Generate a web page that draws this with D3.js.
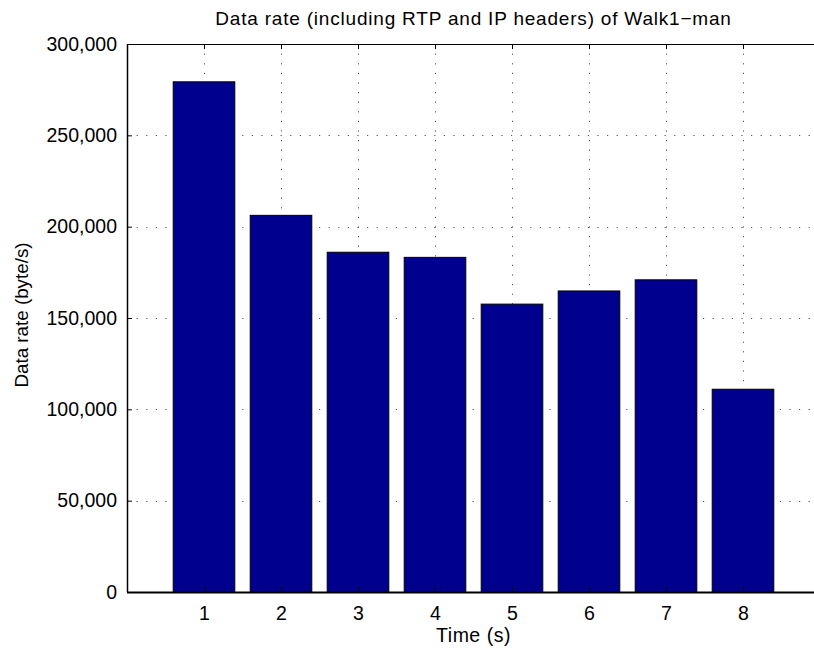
<!DOCTYPE html>
<html>
<head>
<meta charset="utf-8">
<script src="https://cdn.jsdelivr.net/npm/d3@7/dist/d3.min.js"></script>
<style>
  body { margin: 0; background: #fff; }
  svg { display: block; font-family: "Liberation Sans", Arial, sans-serif; }
</style>
</head>
<body>
<div id="chart"></div>
<script>
// chart data
const times = [1, 2, 3, 4, 5, 6, 7, 8];
const rates = [279300, 206200, 186000, 183200, 157600, 164800, 170900, 111000];
const yTicks = [0, 50000, 100000, 150000, 200000, 250000, 300000];
const titleText = "Data rate (including RTP and IP headers) of Walk1\u2212man";
const xLabel = "Time (s)";
const yLabel = "Data rate (byte/s)";

const width = 814, height = 653;
const margin = { top: 44, right: -6, bottom: 61, left: 127 };
const innerW = width - margin.left - margin.right;
const innerH = height - margin.top - margin.bottom;

const svg = d3.select('#chart')
    .append('svg')
    .attr('width', width)
    .attr('height', height);

const g = svg.append('g')
    .attr('transform', `translate(${margin.left},${margin.top})`);

const x = d3.scaleLinear().domain([0, 9]).range([0, innerW]);
const y = d3.scaleLinear().domain([0, 300000]).range([innerH, 0]);

// grid
const grid = g.append('g').attr('class', 'grid')
    .attr('stroke', '#555')
    .attr('stroke-width', 1)
    .attr('stroke-dasharray', '1.2,8.4');

grid.selectAll('.hgrid')
    .data(yTicks.filter(d => d > 0 && d < 300000))
    .enter().append('line')
    .attr('x1', 0).attr('x2', innerW)
    .attr('y1', d => Math.round(y(d)) + 0.5)
    .attr('y2', d => Math.round(y(d)) + 0.5);

grid.selectAll('.vgrid')
    .data(times)
    .enter().append('line')
    .attr('y1', 0).attr('y2', innerH)
    .attr('x1', d => Math.round(x(d)) + 0.5)
    .attr('x2', d => Math.round(x(d)) + 0.5);

// bars
const barW = x(0.8) - x(0);
g.selectAll('.bar')
    .data(times)
    .enter().append('rect')
    .attr('class', 'bar')
    .attr('x', (d, i) => x(d) - barW / 2)
    .attr('y', (d, i) => y(rates[i]))
    .attr('width', barW)
    .attr('height', (d, i) => innerH - y(rates[i]))
    .attr('fill', '#00008f')
    .attr('stroke', '#000')
    .attr('stroke-width', 1);

// axes
const fmt = d3.format(',');
const yAxis = g.append('g')
    .call(d3.axisLeft(y).tickValues(yTicks).tickSize(-5).tickPadding(10).tickFormat(fmt));
const xAxis = g.append('g')
    .attr('transform', `translate(0,${innerH})`)
    .call(d3.axisBottom(x).tickValues(times).tickSize(-5).tickPadding(14).tickFormat(d3.format('d')));
const topAxis = g.append('g')
    .call(d3.axisTop(x).tickValues(times).tickSize(-5).tickFormat(''));

[yAxis, xAxis, topAxis].forEach(a => {
    a.select('.domain').remove();
    a.selectAll('.tick line').attr('stroke', '#000');
    a.selectAll('text').attr('fill', '#000').style('font-size', '19.5px');
});

// box
g.append('rect')
    .attr('x', 0.5).attr('y', 0.5)
    .attr('width', innerW).attr('height', innerH)
    .attr('fill', 'none')
    .attr('stroke', '#000')
    .attr('stroke-width', 1);
g.append('line')
    .attr('x1', 0).attr('x2', innerW)
    .attr('y1', innerH + 0.5).attr('y2', innerH + 0.5)
    .attr('stroke', '#000').attr('stroke-width', 2);
g.append('line')
    .attr('x1', 0.5).attr('x2', 0.5)
    .attr('y1', 0).attr('y2', innerH)
    .attr('stroke', '#000').attr('stroke-width', 1.5);

// labels
svg.append('text')
    .attr('x', margin.left + innerW / 2)
    .attr('y', 25)
    .attr('text-anchor', 'middle')
    .style('font-size', '19px')
    .style('letter-spacing', '0.8px')
    .text(titleText);

svg.append('text')
    .attr('x', margin.left + innerW / 2)
    .attr('y', 642)
    .attr('text-anchor', 'middle')
    .style('font-size', '19.5px')
    .style('letter-spacing', '0.5px')
    .text(xLabel);

svg.append('text')
    .attr('transform', `translate(28,${margin.top + innerH / 2 - 3}) rotate(-90)`)
    .attr('text-anchor', 'middle')
    .style('font-size', '18.8px')
    .text(yLabel);
</script>
</body>
</html>
